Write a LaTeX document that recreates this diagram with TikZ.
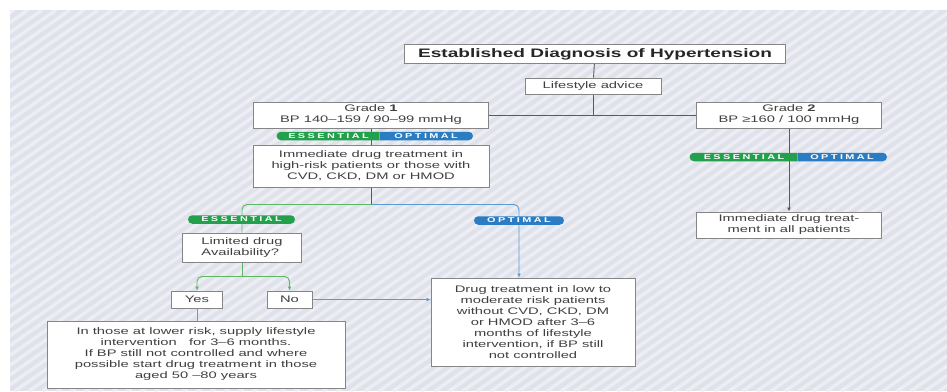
\documentclass[tikz,border=0pt]{standalone}
\usepackage{fontspec}
\setmainfont{Liberation Sans}[FakeStretch=1.55]
\usetikzlibrary{arrows.meta,shapes.misc}

\definecolor{bgcol}{HTML}{DFE2EA}
\definecolor{stripecol}{HTML}{ECEEF3}
\definecolor{boxline}{HTML}{858585}
\definecolor{txtcol}{HTML}{404040}
\definecolor{linkcol}{HTML}{5A5A5A}
\definecolor{esscol}{HTML}{22A04B}
\definecolor{optcol}{HTML}{2A7DC2}
\definecolor{essline}{HTML}{5DB865}
\definecolor{optline}{HTML}{5B9BD5}

\tikzset{
	box/.style={draw=boxline, fill=white, line width=1pt, text=txtcol, align=center,
		inner sep=1pt, font=\fontsize{9.5}{11}\selectfont},
	titlebox/.style={box, font=\fontsize{12.3}{14}\selectfont\bfseries, text=black!85},
	link/.style={draw=linkcol, line width=0.9pt},
	esslink/.style={draw=essline, line width=0.9pt},
	optlink/.style={draw=optline, line width=0.9pt},
	arrowed/.style={-{Latex[length=4pt,width=4pt]}},
	bgstripe/.style={draw=stripecol, line width=3.5pt},
	pill/.style={rounded rectangle, minimum height=8.5pt, inner sep=0pt, text=white,
		font=\fontsize{7}{7}\selectfont\bfseries\addfontfeature{LetterSpace=35}},
	esspill/.style={pill, fill=esscol},
	optpill/.style={pill, fill=optcol},
	lefthalf/.style={rounded rectangle right arc=none},
	righthalf/.style={rounded rectangle left arc=none}
}

\begin{document}
\begin{tikzpicture}[x=1pt, y=-1pt]
	\useasboundingbox (0,0) rectangle (947,391);
	\fill[white] (0,0) rectangle (947,391);
	\begin{scope}
		\clip (10,10) rectangle (947,391);
		\fill[bgcol] (10,10) rectangle (947,391);
		\foreach \i in {0,...,110}
			\draw[bgstripe] ({\i*14-545},391) -- ++(545,-381);
	\end{scope}

	% boxes
	\node[titlebox, minimum width=381pt, minimum height=19pt] (diag) at (595,54) {Established Diagnosis of Hypertension};
	\node[box, minimum width=136pt, minimum height=16pt] (life) at (593,86) {Lifestyle advice};
	\node[box, minimum width=235pt, minimum height=26pt] (g1) at (371,115) {Grade \textbf{1}\\BP 140–159 / 90–99 mmHg};
	\node[box, minimum width=185pt, minimum height=26pt] (g2) at (789,115) {Grade \textbf{2}\\BP ≥160 / 100 mmHg};
	\node[box, minimum width=236pt, minimum height=42pt] (imm) at (371,166) {Immediate drug treatment in\\high-risk patients or those with\\CVD, CKD, DM or HMOD};
	\node[box, minimum width=185pt, minimum height=26pt] (immall) at (789,225) {Immediate drug treat-\\ment in all patients};
	\node[box, minimum width=119pt, minimum height=29pt, align=left] (limited) at (242,247.5) {Limited drug\\Availability?};
	\node[box, minimum width=51pt, minimum height=17pt] (yes) at (197,299.5) {Yes};
	\node[box, minimum width=45pt, minimum height=17pt] (no) at (289.5,299.5) {No};
	\node[box, minimum width=298pt, minimum height=67pt] (lower) at (196,354.5) {In those at lower risk, supply lifestyle\\intervention \ \ for 3–6 months.\\If BP still not controlled and where\\possible start drug treatment in those\\aged 50 –80 years};
	\node[box, minimum width=204pt, minimum height=88pt] (drug) at (533,322) {Drug treatment in low to\\moderate risk patients\\without CVD, CKD, DM\\or HMOD after 3–6\\months of lifestyle\\intervention, if BP still\\not controlled};

	% connectors
	\coordinate (split) at ([yshift=-17pt]imm.south);
	\coordinate (optdrop) at (519,0);
	\coordinate (fork) at ([yshift=-14pt]limited.south);
	\draw[link] (diag) -- (life);
	\draw[link] (life) -- (life |- g1.east);
	\draw[link] (g1.east) -- (g2.west);
	\draw[link] (g1) -- (imm);
	\draw[link, arrowed] (g2) -- (immall);
	\draw[link] (imm.south) -- (split);
	\draw[esslink, rounded corners=5pt] (split) -| (limited.north);
	\draw[optlink, rounded corners=5pt, arrowed] (split) -| (optdrop |- drug.north);
	\draw[esslink] (limited.south) -- (fork);
	\draw[esslink, rounded corners=5pt, arrowed] (fork) -| (yes.north);
	\draw[esslink, rounded corners=5pt, arrowed] (fork) -| (no.north);
	\draw[optlink, arrowed] (no.east) -- (no.east -| drug.west);
	\draw[esslink] (yes.south) -- (yes.south |- lower.north);

	% pills
	\node[esspill, lefthalf, minimum width=103pt] (ess1) at (328.5,136) {ESSENTIAL};
	\node[optpill, righthalf, minimum width=93pt, anchor=west] (opt1) at (ess1.east) {OPTIMAL};
	\node[esspill, lefthalf, minimum width=108pt] (ess2) at (744,157) {ESSENTIAL};
	\node[optpill, righthalf, minimum width=89pt, anchor=west] (opt2) at (ess2.east) {OPTIMAL};
	\node[esspill, minimum width=107pt] (ess3) at (241.5,219.5) {ESSENTIAL};
	\node[optpill, minimum width=90pt] (opt3) at (519,220.5) {OPTIMAL};
\end{tikzpicture}
\end{document}
